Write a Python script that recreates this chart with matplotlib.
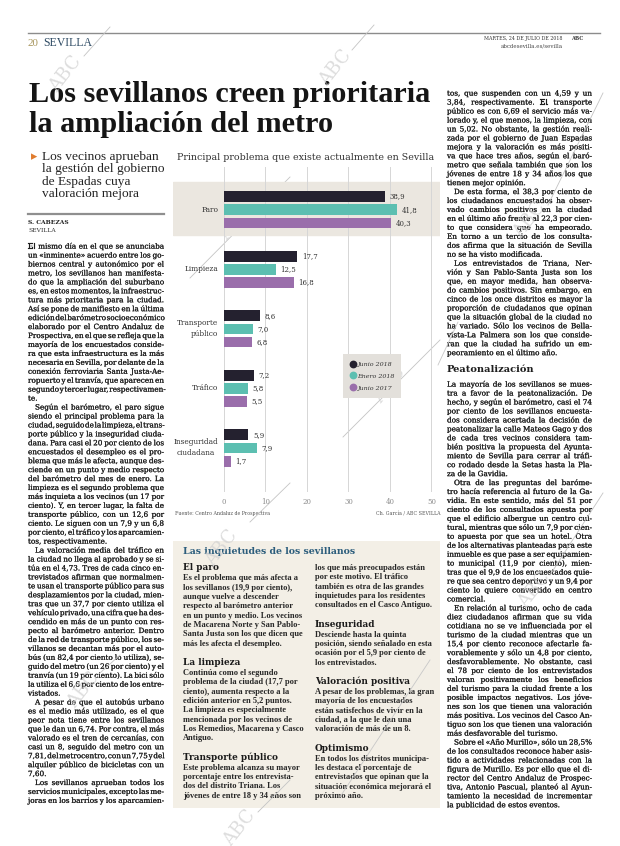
import matplotlib
matplotlib.use('Agg')
import matplotlib.pyplot as plt
import matplotlib.patheffects as pe
import numpy as np
from matplotlib.lines import Line2D
from matplotlib.patches import Rectangle

# ---------------- chart data ----------------
categories = ['Paro', 'Limpieza', 'Transporte\npúblico', 'Tráfico', 'Inseguridad\nciudadana']
series_labels = ['Junio 2018', 'Enero 2018', 'Junio 2017']
junio_2018 = [38.9, 17.7, 8.6, 7.2, 5.9]
enero_2018 = [41.8, 12.5, 7.0, 5.8, 7.9]
junio_2017 = [40.3, 16.8, 6.8, 5.5, 1.7]
x_ticks = [0, 10, 20, 30, 40, 50]
chart_title = 'Principal problema que existe actualmente en Sevilla'
source_left = 'Fuente: Centro Andaluz de Prospectiva'
source_right = 'Ch. García / ABC SEVILLA'

# ---------------- page texts ----------------
headline = ['Los sevillanos creen prioritaria', 'la ampliación del metro']
blurb = ['Los vecinos aprueban', 'la gestión del gobierno', 'de Espadas cuya', 'valoración mejora']

left_body = [
    "El mismo día en el que se anunciaba",
    "un «inminente» acuerdo entre los go-",
    "biernos central y autonómico por el",
    "metro, los sevillanos han manifesta-",
    "do que la ampliación del suburbano",
    "es, en estos momentos, la infraestruc-",
    "tura más prioritaria para la ciudad.",
    "Así se pone de manifiesto en la última",
    "edición del barómetro socioeconómico",
    "elaborado por el Centro Andaluz de",
    "Prospectiva, en el que se refleja que la",
    "mayoría de los encuestados conside-",
    "ra que esta infraestructura es la más",
    "necesaria en Sevilla, por delante de la",
    "conexión ferroviaria Santa Justa-Ae-",
    "ropuerto y el tranvía, que aparecen en",
    "segundo y tercer lugar, respectivamen-",
    "te.",
    ">Según el barómetro, el paro sigue",
    "siendo el principal problema para la",
    "ciudad, seguido de la limpieza, el trans-",
    "porte público y la inseguridad ciuda-",
    "dana. Para casi el 20 por ciento de los",
    "encuestados el desempleo es el pro-",
    "blema que más le afecta, aunque des-",
    "ciende en un punto y medio respecto",
    "del barómetro del mes de enero. La",
    "limpieza es el segundo problema que",
    "más inquieta a los vecinos (un 17 por",
    "ciento). Y, en tercer lugar, la falta de",
    "transporte público, con un 12,6 por",
    "ciento. Le siguen con un 7,9 y un 6,8",
    "por ciento, el tráfico y los aparcamien-",
    "tos, respectivamente.",
    ">La valoración media del tráfico en",
    "la ciudad no llega al aprobado y se si-",
    "túa en el 4,73. Tres de cada cinco en-",
    "trevistados afirman que normalmen-",
    "te usan el transporte público para sus",
    "desplazamientos por la ciudad, mien-",
    "tras que un 37,7 por ciento utiliza el",
    "vehículo privado, una cifra que ha des-",
    "cendido en más de un punto con res-",
    "pecto al barómetro anterior. Dentro",
    "de la red de transporte público, los se-",
    "villanos se decantan más por el auto-",
    "bús (un 82,4 por ciento lo utiliza), se-",
    "guido del metro (un 26 por ciento) y el",
    "tranvía (un 19 por ciento). La bici sólo",
    "la utiliza el 6,6 por ciento de los entre-",
    "vistados.",
    ">A pesar de que el autobús urbano",
    "es el medio más utilizado, es el que",
    "peor nota tiene entre los sevillanos",
    "que le dan un 6,74. Por contra, el más",
    "valorado es el tren de cercanías, con",
    "casi un 8, seguido del metro con un",
    "7,81, del metrocentro, con un 7,75 y del",
    "alquiler público de bicicletas con un",
    "7,60.",
    ">Los sevillanos aprueban todos los",
    "servicios municipales, excepto las me-",
    "joras en los barrios y los aparcamien-",
]

right_body_1 = [
    "tos, que suspenden con un 4,59 y un",
    "3,84, respectivamente. El transporte",
    "público es con 6,69 el servicio más va-",
    "lorado y, el que menos, la limpieza, con",
    "un 5,02. No obstante, la gestión reali-",
    "zada por el gobierno de Juan Espadas",
    "mejora y la valoración es más positi-",
    "va que hace tres años, según el baró-",
    "metro que señala también que son los",
    "jóvenes de entre 18 y 34 años los que",
    "tienen mejor opinión.",
    ">De esta forma, el 38,3 por ciento de",
    "los ciudadanos encuestados ha obser-",
    "vado cambios positivos en la ciudad",
    "en el último año frente al 22,3 por cien-",
    "to que considera que ha empeorado.",
    "En torno a un tercio de los consulta-",
    "dos afirma que la situación de Sevilla",
    "no se ha visto modificada.",
    ">Los entrevistados de Triana, Ner-",
    "vión y San Pablo-Santa Justa son los",
    "que, en mayor medida, han observa-",
    "do cambios positivos. Sin embargo, en",
    "cinco de los once distritos es mayor la",
    "proporción de ciudadanos que opinan",
    "que la situación global de la ciudad no",
    "ha variado. Sólo los vecinos de Bella-",
    "vista-La Palmera son los que conside-",
    "ran que la ciudad ha sufrido un em-",
    "peoramiento en el último año.",
]
right_heading = 'Peatonalización'
right_body_2 = [
    "La mayoría de los sevillanos se mues-",
    "tra a favor de la peatonalización. De",
    "hecho, y según el barómetro, casi el 74",
    "por ciento de los sevillanos encuesta-",
    "dos considera acertada la decisión de",
    "peatonalizar la calle Mateos Gago y dos",
    "de cada tres vecinos considera tam-",
    "bién positiva la propuesta del Ayunta-",
    "miento de Sevilla para cerrar al tráfi-",
    "co rodado desde la Setas hasta la Pla-",
    "za de la Gavidia.",
    ">Otra de las preguntas del baróme-",
    "tro hacía referencia al futuro de la Ga-",
    "vidia. En este sentido, más del 51 por",
    "ciento de los consultados apuesta por",
    "que el edificio albergue un centro cul-",
    "tural, mientras que sólo un 7,9 por cien-",
    "to apuesta por que sea un hotel. Otra",
    "de los alternativas planteadas para este",
    "inmueble es que pase a ser equipamien-",
    "to municipal (11,9 por ciento), mien-",
    "tras que el 9,9 de los encuestados quie-",
    "re que sea centro deportivo y un 9,4 por",
    "ciento lo quiere convertido en centro",
    "comercial.",
    ">En relación al turismo, ocho de cada",
    "diez ciudadanos afirman que su vida",
    "cotidiana no se ve influenciada por el",
    "turismo de la ciudad mientras que un",
    "15,4 por ciento reconoce afectarle fa-",
    "vorablemente y sólo un 4,8 por ciento,",
    "desfavorablemente. No obstante, casi",
    "el 78 por ciento de los entrevistados",
    "valoran positivamente los beneficios",
    "del turismo para la ciudad frente a los",
    "posible impactos negativos. Los jóve-",
    "nes son los que tienen una valoración",
    "más positiva. Los vecinos del Casco An-",
    "tiguo son los que tienen una valoración",
    "más desfavorable del turismo.",
    ">Sobre el «Año Murillo», sólo un 28,5%",
    "de los consultados reconoce haber asis-",
    "tido a actividades relacionadas con la",
    "figura de Murillo. Es por ello que el di-",
    "rector del Centro Andaluz de Prospec-",
    "tiva, Antonio Pascual, planteó al Ayun-",
    "tamiento la necesidad de incrementar",
    "la publicidad de estos eventos.",
]

box_title = 'Las inquietudes de los sevillanos'
box_left = [
    "#El paro",
    "Es el problema que más afecta a",
    "los sevillanos (19,9 por ciento),",
    "aunque vuelve a descender",
    "respecto al barómetro anterior",
    "en un punto y medio. Los vecinos",
    "de Macarena Norte y San Pablo-",
    "Santa Justa son los que dicen que",
    "más les afecta el desempleo.",
    "#La limpieza",
    "Continúa como el segundo",
    "problema de la ciudad (17,7 por",
    "ciento), aumenta respecto a la",
    "edición anterior en 5,2 puntos.",
    "La limpieza es especialmente",
    "mencionada por los vecinos de",
    "Los Remedios, Macarena y Casco",
    "Antiguo.",
    "#Transporte público",
    "Este problema alcanza su mayor",
    "porcentaje entre los entrevista-",
    "dos del distrito Triana. Los",
    "jóvenes de entre 18 y 34 años son",
]
box_right = [
    "los que más preocupados están",
    "por este motivo. El tráfico",
    "también es otra de las grandes",
    "inquietudes para los residentes",
    "consultados en el Casco Antiguo.",
    "#Inseguridad",
    "Desciende hasta la quinta",
    "posición, siendo señalado en esta",
    "ocasión por el 5,9 por ciento de",
    "los entrevistados.",
    "#Valoración positiva",
    "A pesar de los problemas, la gran",
    "mayoría de los encuestados",
    "están satisfechos de vivir en la",
    "ciudad, a la que le dan una",
    "valoración de más de un 8.",
    "#Optimismo",
    "En todos los distritos municipa-",
    "les destaca el porcentaje de",
    "entrevistados que opinan que la",
    "situación económica mejorará el",
    "próximo año.",
]

# ---------------- figure ----------------
W, H = 620, 846
fig = plt.figure(figsize=(6.2, 8.46), dpi=100)
fig.patch.set_facecolor('white')
page = fig.add_axes([0, 0, 1, 1])
page.set_xlim(0, W)
page.set_ylim(H, 0)
page.axis('off')
renderer = fig.canvas.get_renderer()

SERIF = 'DejaVu Serif'
TIMES = 'Liberation Serif'
INK = '#1e1e1e'
BODY_FX = [pe.withStroke(linewidth=0.12, foreground='#2a2a2a')]

_cache = {}
def wpt(word, family, weight='normal', style='normal'):
    """width in px of word at 1pt"""
    key = (word, family, weight, style)
    if key not in _cache:
        t = page.text(0, 0, word, fontsize=20, family=family, weight=weight, style=style)
        _cache[key] = t.get_window_extent(renderer).width / 20.0
        t.remove()
    return _cache[key]

def space_pt(family, weight='normal'):
    return wpt('n n', family, weight) - wpt('nn', family, weight)

def fit_size(s, width, family, weight='normal', style='normal'):
    return width / wpt(s, family, weight, style)

def column_size(lines, width, family, weight='normal', indent=7, pct=10, tight=0.55):
    ratios = []
    sp = space_pt(family, weight)
    for ln in lines:
        ind = ln.startswith('>')
        s = ln[1:] if ind else ln
        ws = s.split(' ')
        if len(ws) < 4:
            continue
        nat = sum(wpt(w, family, weight) for w in ws) + (len(ws) - 1) * sp * tight
        ratios.append((width - (indent if ind else 0)) / nat)
    return np.percentile(ratios, pct)

def draw_column(lines, x0, x1, y0, dy, size, family, weight='normal', color=INK,
                indent=7, justify=True, last_continues=False):
    width = x1 - x0
    sp = space_pt(family, weight) * size
    px = size * 100 / 72.0
    for i, ln in enumerate(lines):
        ind = ln.startswith('>')
        s = ln[1:] if ind else ln
        nxt = lines[i + 1] if i + 1 < len(lines) else None
        last = (nxt is None and not last_continues) or (nxt is not None and nxt.startswith('>'))
        words = s.split(' ')
        ws = [wpt(w, family, weight) * size for w in words]
        avail = width - (indent if ind else 0)
        if justify and not last and len(words) > 1:
            gap = (avail - sum(ws)) / (len(words) - 1)
            gap = max(gap, 0.3 * sp)
        else:
            gap = sp
        x = x0 + (indent if ind else 0)
        yb = y0 + i * dy + 0.36 * px
        for w, wd in zip(words, ws):
            page.text(x, yb, w, fontsize=size, family=family, weight=weight,
                      color=color, ha='left', va='baseline', path_effects=BODY_FX)
            x += wd + gap

# ---------------- header ----------------
page.plot([28, 600], [33, 33], color='#8c8c8c', lw=1.0)
s20 = fit_size('20', 11, TIMES)
page.text(28, 43, '20', fontsize=s20, family=TIMES, color='#a8965e', ha='left', va='center')
page.text(43, 43, 'SEVILLA', fontsize=fit_size('SEVILLA', 49, TIMES), family=TIMES,
          color='#2d4a63', ha='left', va='center')
page.text(563, 38.5, 'MARTES, 24 DE JULIO DE 2018',
          fontsize=fit_size('MARTES, 24 DE JULIO DE 2018', 77, SERIF), family=SERIF,
          color='#333', ha='right', va='center')
page.text(571, 38.5, 'ABC', fontsize=3.6, family=SERIF, weight='bold', color='#333',
          ha='left', va='center')
page.text(563, 45.5, 'abcdesevilla.es/sevilla',
          fontsize=fit_size('abcdesevilla.es/sevilla', 62, SERIF), family=SERIF,
          color='#444', ha='right', va='center')

# ---------------- headline ----------------
hs = fit_size(headline[0], 402, TIMES, 'bold')
page.text(29, 95, headline[0], fontsize=hs, family=TIMES, weight='bold', color='#151515',
          ha='left', va='center')
page.text(29, 124, headline[1], fontsize=hs, family=TIMES, weight='bold', color='#151515',
          ha='left', va='center')

# ---------------- left column ----------------
page.text(31, 157, '\u25b8', fontsize=9, family=['DejaVu Sans'], color='#e07b2e',
          ha='left', va='center')
bs = fit_size(blurb[1], 122, TIMES)
for i, ln in enumerate(blurb):
    page.text(42, 157 + i * 12.3, ln, fontsize=bs, family=TIMES, color='#222',
              ha='left', va='center')
page.plot([28, 164], [214, 214], color='#8f8f8f', lw=1.6)
page.text(28, 222, 'S. CABEZAS', fontsize=4.3, family=SERIF, weight='bold', color='#222',
          ha='left', va='center')
page.text(28, 230, 'SEVILLA', fontsize=4.3, family=SERIF, color='#333', ha='left', va='center')

body_size = min(column_size(left_body, 136, SERIF),
                column_size(right_body_1 + right_body_2, 145, SERIF))
draw_column(left_body, 28, 164, 246, 8.94, body_size, SERIF, last_continues=True)

# ---------------- right column ----------------
draw_column(right_body_1, 447, 592, 93, 8.95, body_size, SERIF)
page.text(447, 370, right_heading, fontsize=fit_size(right_heading, 88, SERIF, 'bold'),
          family=SERIF, weight='bold', color=INK, ha='left', va='center')
draw_column(right_body_2, 447, 592, 384, 8.95, body_size, SERIF)

# ---------------- chart ----------------
px_l, px_r, px_t, px_b = 173, 440, 167, 492
ax = fig.add_axes([px_l / W, 1 - px_b / H, (px_r - px_l) / W, (px_b - px_t) / H])
ax.set_facecolor('none')
ax.set_xlim(-12.29, 52.05)
ax.set_ylim(4.74, -0.72)
for sp_ in ax.spines.values():
    sp_.set_visible(False)
ax.set_yticks([])
ax.set_xticks(x_ticks)
ax.set_xticklabels([str(t) for t in x_ticks])
ax.tick_params(axis='x', length=0, pad=4, labelsize=5, labelcolor='#8c8c8c')
for lbl in ax.get_xticklabels():
    lbl.set_family(SERIF)
ax.set_axisbelow(True)
ax.xaxis.grid(True, color='#d6d6d6', lw=0.7)
ax.axhspan(-0.46, 0.43, color='#ebe7e0', zorder=0)

colors = ['#24212f', '#5cbfb1', '#9a6eab']
ypos = np.arange(len(categories))
offsets = [-0.222, 0.0, 0.222]
for vals, off, c in zip([junio_2018, enero_2018, junio_2017], offsets, colors):
    bars = ax.barh(ypos + off, vals, height=0.18, color=c, zorder=3)
    for b, v in zip(bars, vals):
        ax.text(v + 1.1, b.get_y() + b.get_height() / 2, f'{v:.1f}'.replace('.', ','),
                ha='left', va='center', fontsize=5, family=SERIF, color='#333', zorder=4)
aligns = ['right', 'right', 'right', 'right', 'center']
for i, (cat, al) in enumerate(zip(categories, aligns)):
    ax.text(-1.3, i, cat, ha='right', va='center', multialignment=al, fontsize=5.3,
            family=SERIF, color='#333', linespacing=1.5)

handles = [Line2D([0], [0], marker='o', linestyle='none', markersize=4.6,
                  markerfacecolor=c, markeredgecolor=c) for c in colors]
leg = ax.legend(handles, series_labels, loc='center', bbox_to_anchor=(0.745, 0.357),
                frameon=True, fancybox=False, facecolor='#e3e0db', edgecolor='none',
                framealpha=1, prop=dict(family=SERIF, style='italic', size=4.6),
                handletextpad=0.1, labelspacing=1.0, borderpad=1.1, handlelength=1.0,
                labelcolor='#333')
leg.set_zorder(5)

page.text(306, 157, chart_title, fontsize=fit_size(chart_title, 258, SERIF), family=SERIF,
          color='#333', ha='center', va='center')
page.text(175, 514, source_left, fontsize=3.4, family=SERIF, color='#555', ha='left', va='center')
page.text(440, 514, source_right, fontsize=3.4, family=SERIF, color='#555', ha='right', va='center')

# ---------------- box ----------------
page.add_patch(Rectangle((173, 541), 267, 267, facecolor='#f3efe6', edgecolor='none', zorder=0))
page.text(183, 551, box_title, fontsize=fit_size(box_title, 174, SERIF, 'bold'),
          family=SERIF, weight='bold', color='#2c5d7c', ha='left', va='center')

box_body_size = fit_size('Santa Justa son los que dicen que', 119, TIMES, 'bold')
box_head_size = fit_size('Transporte público', 94, SERIF, 'bold')

def draw_box_col(lines, x0, y0):
    y = y0
    prev = None
    for ln in lines:
        if ln.startswith('#'):
            if prev is not None:
                y += 19.0
            page.text(x0, y, ln[1:], fontsize=box_head_size, family=SERIF, weight='bold',
                      color='#1a1a1a', ha='left', va='center')
            prev = 'h'
        else:
            if prev == 'h':
                y += 10.5
            elif prev == 'b':
                y += 9.3
            page.text(x0, y, ln, fontsize=box_body_size, family=TIMES, weight='bold',
                      color='#262626', ha='left', va='center')
            prev = 'b'

draw_box_col(box_left, 183, 568)
draw_box_col(box_right, 315, 568)

# ---------------- watermarks ----------------
def watermark(cx, cy, x1, y1, x2, y2, ang=52):
    page.plot([x1, x2], [y1, y2], color='#c4c4c4', lw=0.6, zorder=6)
    page.text(cx, cy, 'ABC', fontsize=13, family=SERIF, color='#d2d2d2', rotation=ang,
              ha='center', va='center', alpha=0.75, zorder=6)

watermark(66, 74, 110, 27, 84, 56)
watermark(336, 68, 374, 25, 352, 50)
watermark(236, 222, 290, 177, 190, 278)
watermark(390, 385, 343, 437, 440, 340)
watermark(222, 548, 290, 483, 250, 522)
watermark(84, 690, 120, 655, 100, 673)
watermark(530, 220, 603, 93, 548, 205)
watermark(535, 590, 603, 493, 550, 575)
watermark(240, 828, 290, 780, 258, 812)
page.plot([430, 340], [660, 797], color='#c8c8c8', lw=0.6, zorder=6)
page.plot([438, 458], [365, 322], color='#c8c8c8', lw=0.6, zorder=6)

fig.savefig('out.png', dpi=100, facecolor='white')
